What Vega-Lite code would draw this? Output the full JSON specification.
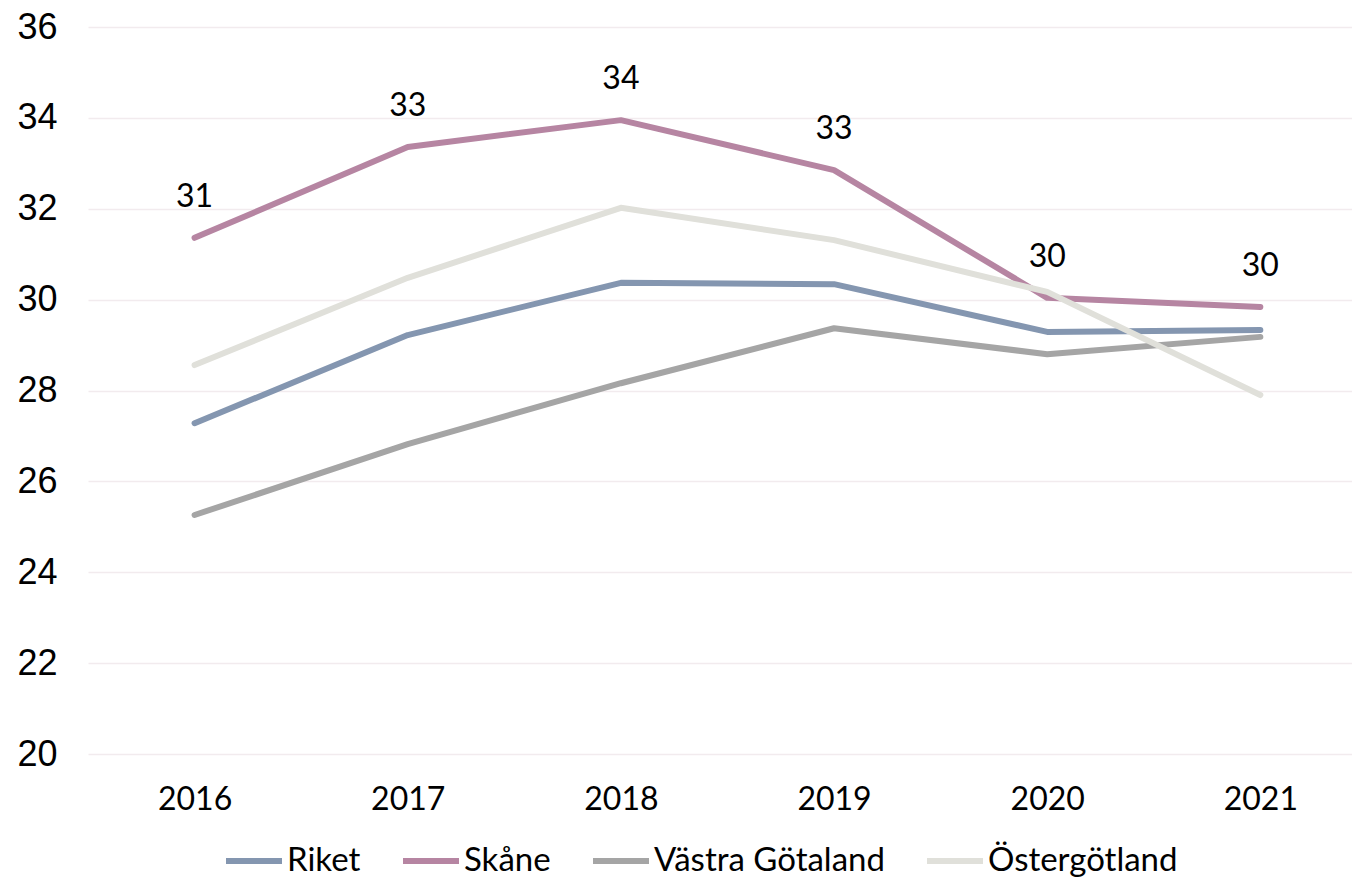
{
  "$schema": "https://vega.github.io/schema/vega-lite/v6.json",
  "width": 1264,
  "height": 727,
  "autosize": "none",
  "padding": {"left": 88, "top": 27, "right": 0, "bottom": 124},
  "background": "white",
  "config": {"view": {"stroke": null}},
  "data": {
    "values": [
      {"year": 2016, "region": "Riket", "value": 27.28},
      {"year": 2017, "region": "Riket", "value": 29.22},
      {"year": 2018, "region": "Riket", "value": 30.37},
      {"year": 2019, "region": "Riket", "value": 30.34},
      {"year": 2020, "region": "Riket", "value": 29.29},
      {"year": 2021, "region": "Riket", "value": 29.33},
      {"year": 2016, "region": "Skåne", "value": 31.36},
      {"year": 2017, "region": "Skåne", "value": 33.36},
      {"year": 2018, "region": "Skåne", "value": 33.95},
      {"year": 2019, "region": "Skåne", "value": 32.85},
      {"year": 2020, "region": "Skåne", "value": 30.04},
      {"year": 2021, "region": "Skåne", "value": 29.84},
      {"year": 2016, "region": "Västra Götaland", "value": 25.26},
      {"year": 2017, "region": "Västra Götaland", "value": 26.82},
      {"year": 2018, "region": "Västra Götaland", "value": 28.16},
      {"year": 2019, "region": "Västra Götaland", "value": 29.37},
      {"year": 2020, "region": "Västra Götaland", "value": 28.8},
      {"year": 2021, "region": "Västra Götaland", "value": 29.18},
      {"year": 2016, "region": "Östergötland", "value": 28.56},
      {"year": 2017, "region": "Östergötland", "value": 30.48},
      {"year": 2018, "region": "Östergötland", "value": 32.02},
      {"year": 2019, "region": "Östergötland", "value": 31.31},
      {"year": 2020, "region": "Östergötland", "value": 30.17},
      {"year": 2021, "region": "Östergötland", "value": 27.9}
    ]
  },
  "encoding": {
    "x": {
      "field": "year",
      "type": "quantitative",
      "scale": {"domain": [2015.5, 2021.43], "nice": false, "zero": false},
      "axis": {
        "title": null,
        "values": [2016, 2017, 2018, 2019, 2020, 2021],
        "format": "d",
        "grid": false,
        "ticks": false,
        "domain": false,
        "labelFont": "Lato",
        "labelFontSize": 32,
        "labelColor": "#000000",
        "labelPadding": 30
      }
    },
    "y": {
      "field": "value",
      "type": "quantitative",
      "scale": {"domain": [20, 36], "nice": false, "zero": false},
      "axis": {
        "title": null,
        "values": [20, 22, 24, 26, 28, 30, 32, 34, 36],
        "grid": true,
        "gridColor": "#F2EBEE",
        "gridWidth": 1.5,
        "ticks": false,
        "domain": false,
        "labelFont": "Liberation Sans",
        "labelFontSize": 36,
        "labelColor": "#000000",
        "labelPadding": 31
      }
    }
  },
  "layer": [
    {
      "mark": {"type": "line", "strokeWidth": 6, "strokeCap": "round", "strokeJoin": "round"},
      "encoding": {
        "color": {
          "field": "region",
          "type": "nominal",
          "scale": {
            "domain": ["Riket", "Skåne", "Västra Götaland", "Östergötland"],
            "range": ["#8496B0", "#B685A2", "#A5A5A5", "#E0E0DA"]
          },
          "legend": {
            "title": null,
            "orient": "none",
            "direction": "horizontal",
            "legendX": 135,
            "legendY": 803,
            "symbolType": "stroke",
            "symbolSize": 3136,
            "symbolStrokeWidth": 6,
            "labelFont": "Lato",
            "labelFontSize": 33,
            "labelColor": "#000000",
            "labelOffset": 2,
            "labelLimit": 400,
            "columnPadding": 30
          }
        }
      }
    },
    {
      "transform": [{"filter": "datum.region === 'Skåne'"}],
      "mark": {"type": "text", "dy": -41, "font": "Lato", "fontSize": 32, "color": "#000000"},
      "encoding": {
        "text": {"field": "value", "type": "quantitative", "format": ".0f"}
      }
    }
  ]
}
